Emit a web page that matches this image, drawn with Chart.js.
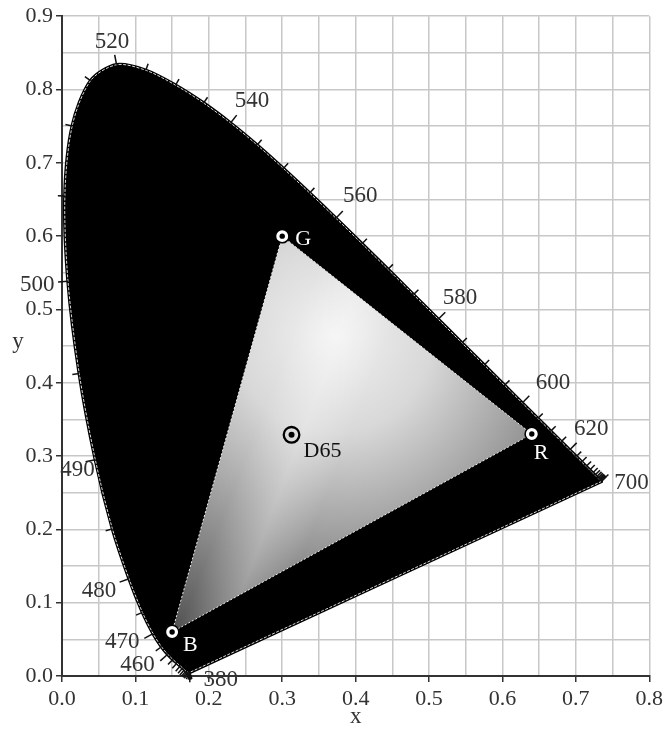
<!DOCTYPE html>
<html>
<head>
<meta charset="utf-8">
<script src="https://cdn.jsdelivr.net/npm/chart.js@4.4.1/dist/chart.umd.min.js"></script>
<style>
html,body{margin:0;padding:0;background:#ffffff;}
#wrap{width:667px;height:731px;position:relative;}
</style>
</head>
<body>
<div id="wrap"><canvas id="c"></canvas></div>
<script>
// ---------- DATA ----------
const wavelengths = [380,385,390,395,400,405,410,415,420,425,430,435,440,445,450,455,460,465,470,475,480,485,490,495,500,505,510,515,520,525,530,535,540,545,550,555,560,565,570,575,580,585,590,595,600,605,610,615,620,625,630,635,640,645,650,655,660,665,670,675,680,685,690,695,700];
const locusX = [0.1741,0.1740,0.1738,0.1736,0.1733,0.1730,0.1726,0.1721,0.1714,0.1703,0.1689,0.1669,0.1644,0.1611,0.1566,0.1510,0.1440,0.1355,0.1241,0.1096,0.0913,0.0687,0.0454,0.0235,0.0082,0.0039,0.0139,0.0389,0.0743,0.1142,0.1547,0.1929,0.2296,0.2658,0.3016,0.3373,0.3731,0.4087,0.4441,0.4788,0.5125,0.5448,0.5752,0.6029,0.6270,0.6482,0.6658,0.6801,0.6915,0.7006,0.7079,0.7140,0.7190,0.7230,0.7260,0.7283,0.7300,0.7311,0.7320,0.7327,0.7334,0.7340,0.7344,0.7346,0.7347];
const locusY = [0.0050,0.0050,0.0049,0.0049,0.0048,0.0048,0.0048,0.0048,0.0051,0.0058,0.0069,0.0086,0.0109,0.0138,0.0177,0.0227,0.0297,0.0399,0.0578,0.0868,0.1327,0.2007,0.2950,0.4127,0.5384,0.6548,0.7502,0.8120,0.8338,0.8262,0.8059,0.7816,0.7543,0.7243,0.6923,0.6589,0.6245,0.5896,0.5547,0.5202,0.4866,0.4544,0.4242,0.3965,0.3725,0.3514,0.3340,0.3197,0.3083,0.2993,0.2920,0.2859,0.2809,0.2770,0.2740,0.2717,0.2700,0.2689,0.2680,0.2673,0.2666,0.2660,0.2656,0.2654,0.2653];
const labeledWavelengths = [380,460,470,480,490,500,520,540,560,580,600,620,700];

const primaryNames = ['R','G','B'];
const primaryX = [0.64,0.30,0.15];
const primaryY = [0.33,0.60,0.06];

const whiteNames = ['D65'];
const whiteX = [0.3127];
const whiteY = [0.3290];

const xTickLabels = ['0.0','0.1','0.2','0.3','0.4','0.5','0.6','0.7','0.8'];
const yTickLabels = ['0.0','0.1','0.2','0.3','0.4','0.5','0.6','0.7','0.8','0.9'];
const xAxisTitle = 'x';
const yAxisTitle = 'y';

// ---------- STYLE ----------
const SERIF = '"Liberation Serif", "Times New Roman", serif';
const TEXT = '#333333';
const shading = { cx: 0.37, cy: 0.465, r: 330,
  stops: [[0,'#f2f2f2'],[0.3,'#d8d8d8'],[0.6,'#a0a0a0'],[1,'#555555']] };
const streak = { cx: 0.365, cy: 0.43, dir: [0.934, 0.358], half: 45, alpha: 0.28 };
const labelDirs = { 380:[1,0.2], 700:[1,0], 460:[-0.95,0.31], 470:[-0.97,0.24] };
const labelNudge = { 490:[13,3], 600:[9,1], 540:[3,0], 560:[3,-1] };
const pointLabelOffsets = { R:[2,19], G:[13,3], B:[11,13], D65:[12,16] };

// ---------- BUILD ----------
const locusPts = locusX.map((x,i)=>({x, y: locusY[i]}));
const locusClosed = locusPts.concat([locusPts[0]]);
const triPts = primaryX.map((x,i)=>({x, y: primaryY[i]}));
const triClosed = triPts.concat([triPts[0]]);
const whitePts = whiteX.map((x,i)=>({x, y: whiteY[i]}));

const xMajor = xTickLabels.map(Number);
const yMajor = yTickLabels.map(Number);
function isMajor(v, list){ return list.some(m => Math.abs(m - v) < 1e-6); }
function labelFor(v, labels){ const i = labels.findIndex(l => Math.abs(Number(l) - v) < 1e-6); return i >= 0 ? labels[i] : ''; }

function triangleFill(context){
  const chart = context.chart;
  if (!chart.chartArea) return '#bbbbbb';
  const xs = chart.scales.x, ys = chart.scales.y;
  const cx = xs.getPixelForValue(shading.cx), cy = ys.getPixelForValue(shading.cy);
  const g = chart.ctx.createRadialGradient(cx, cy, 0, cx, cy, shading.r);
  shading.stops.forEach(s => g.addColorStop(s[0], s[1]));
  return g;
}
function streakFill(context){
  const chart = context.chart;
  if (!chart.chartArea) return 'rgba(255,255,255,0)';
  const xs = chart.scales.x, ys = chart.scales.y;
  const cx = xs.getPixelForValue(streak.cx), cy = ys.getPixelForValue(streak.cy);
  const dx = streak.dir[0]*streak.half, dy = streak.dir[1]*streak.half;
  const g = chart.ctx.createLinearGradient(cx-dx, cy-dy, cx+dx, cy+dy);
  g.addColorStop(0, 'rgba(255,255,255,0)');
  g.addColorStop(0.5, 'rgba(255,255,255,' + streak.alpha + ')');
  g.addColorStop(1, 'rgba(255,255,255,0)');
  return g;
}

const locusTicksPlugin = {
  id: 'locusTicks',
  afterDatasetsDraw(chart){
    const ctx = chart.ctx, xs = chart.scales.x, ys = chart.scales.y;
    const px = locusX.map(v => xs.getPixelForValue(v));
    const py = locusY.map(v => ys.getPixelForValue(v));
    const n = px.length;
    ctx.save();
    ctx.font = '23px ' + SERIF;
    ctx.fillStyle = TEXT;
    ctx.textAlign = 'center';
    ctx.textBaseline = 'middle';
    for (let i = 0; i < n; i++){
      const a = Math.max(0, i-1), b = Math.min(n-1, i+1);
      let tx = px[b]-px[a], ty = py[b]-py[a];
      const tl = Math.hypot(tx, ty) || 1; tx/=tl; ty/=tl;
      const nx = ty, ny = -tx;
      const wl = wavelengths[i];
      const labeled = labeledWavelengths.includes(wl);
      const len = labeled ? 10 : 7;
      ctx.strokeStyle = '#111';
      ctx.lineWidth = 1.5;
      ctx.beginPath();
      ctx.moveTo(px[i], py[i]);
      ctx.lineTo(px[i] + nx*len, py[i] + ny*len);
      ctx.stroke();
      if (labeled){
        let dx = nx, dy = ny;
        if (labelDirs[wl]){ dx = labelDirs[wl][0]; dy = labelDirs[wl][1]; const l = Math.hypot(dx,dy); dx/=l; dy/=l; }
        const txt = String(wl);
        const w = ctx.measureText(txt).width;
        const d = len + 3 + Math.abs(dx)*w/2 + Math.abs(dy)*8;
        const nudge = labelNudge[wl] || [0,0];
        ctx.fillText(txt, px[i] + dx*d + nudge[0], py[i] + dy*d + 1 + nudge[1]);
      }
    }
    ctx.restore();
  }
};

const pointLabelsPlugin = {
  id: 'pointLabels',
  afterDatasetsDraw(chart){
    const ctx = chart.ctx, xs = chart.scales.x, ys = chart.scales.y;
    ctx.save();
    ctx.font = '22px ' + SERIF;
    ctx.textAlign = 'left';
    ctx.textBaseline = 'middle';
    primaryNames.forEach((nm, i) => {
      const o = pointLabelOffsets[nm];
      ctx.fillStyle = '#ffffff';
      ctx.fillText(nm, xs.getPixelForValue(primaryX[i]) + o[0], ys.getPixelForValue(primaryY[i]) + o[1]);
    });
    whiteNames.forEach((nm, i) => {
      const o = pointLabelOffsets[nm];
      ctx.fillStyle = '#111111';
      ctx.fillText(nm, xs.getPixelForValue(whiteX[i]) + o[0], ys.getPixelForValue(whiteY[i]) + o[1]);
    });
    ctx.restore();
  }
};

const axisTitlesPlugin = {
  id: 'axisTitles',
  afterDraw(chart){
    const ctx = chart.ctx, a = chart.chartArea;
    ctx.save();
    ctx.font = '23px ' + SERIF;
    ctx.fillStyle = TEXT;
    ctx.textAlign = 'center';
    ctx.textBaseline = 'middle';
    ctx.fillText(xAxisTitle, (a.left + a.right)/2, a.bottom + 41);
    ctx.fillText(yAxisTitle, 18, (a.top + a.bottom)/2 - 4);
    ctx.restore();
  }
};

const gridCfg = (major) => ({
  color: '#c8c8c8',
  lineWidth: 1.5,
  drawTicks: true,
  tickLength: 6,
  tickWidth: 1.5,
  tickColor: (c) => (c.tick && isMajor(c.tick.value, major)) ? '#333333' : 'rgba(0,0,0,0)'
});

new Chart(document.getElementById('c'), {
  type: 'scatter',
  data: {
    datasets: [
      { label: 'D65 dot', data: whitePts, pointRadius: 3, pointBackgroundColor: '#000', pointBorderWidth: 0, order: 0 },
      { label: 'D65 ring', data: whitePts, pointRadius: 7.8, pointBackgroundColor: 'rgba(0,0,0,0)', pointBorderColor: '#000', pointBorderWidth: 2.3, order: 1 },
      { label: 'prim dot', data: triPts, pointRadius: 2.7, pointBackgroundColor: '#000', pointBorderWidth: 0, order: 2 },
      { label: 'prim ring', data: triPts, pointRadius: 6.7, pointBackgroundColor: '#fff', pointBorderColor: '#000', pointBorderWidth: 1.5, order: 3 },
      { label: 'gamut edge', data: triClosed, showLine: true, fill: false,
        borderColor: 'rgba(255,255,255,0.9)', borderWidth: 1, borderDash: [2,2], pointRadius: 0, tension: 0, order: 4 },
      { label: 'gamut streak', data: triClosed, showLine: true, fill: 'shape', backgroundColor: streakFill,
        borderWidth: 0, borderColor: 'rgba(0,0,0,0)', pointRadius: 0, tension: 0, order: 5 },
      { label: 'gamut', data: triClosed, showLine: true, fill: 'shape', backgroundColor: triangleFill,
        borderWidth: 0, borderColor: 'rgba(0,0,0,0)', pointRadius: 0, tension: 0, order: 6 },
      { label: 'locus edge', data: locusClosed, showLine: true, fill: false, borderColor: 'rgba(255,255,255,0.85)',
        borderWidth: 1, borderDash: [3,1.5], pointRadius: 0, tension: 0.3, order: 7 },
      { label: 'locus', data: locusClosed, showLine: true, fill: 'shape', backgroundColor: '#000000',
        borderColor: '#000000', borderWidth: 3.5, pointRadius: 0, tension: 0.3, order: 8 }
    ]
  },
  options: {
    responsive: true,
    maintainAspectRatio: false,
    animation: false,
    events: [],
    layout: { padding: { left: 0, right: 17, top: 16, bottom: 0 } },
    plugins: { legend: { display: false }, tooltip: { enabled: false }, title: { display: false } },
    scales: {
      x: {
        type: 'linear', min: 0, max: 0.8,
        afterFit(s){ s.height = 55; },
        ticks: { stepSize: 0.05, autoSkip: false, maxRotation: 0, padding: 4, color: TEXT,
          font: { family: SERIF, size: 22 }, callback: (v) => labelFor(v, xTickLabels) },
        grid: gridCfg(xMajor),
        border: { display: true, color: '#333333', width: 2 }
      },
      y: {
        type: 'linear', min: 0, max: 0.9,
        afterFit(s){ s.width = 62; },
        ticks: { stepSize: 0.05, autoSkip: false, padding: 3, color: TEXT,
          font: { family: SERIF, size: 22 }, callback: (v) => labelFor(v, yTickLabels) },
        grid: gridCfg(yMajor),
        border: { display: true, color: '#333333', width: 2 }
      }
    }
  },
  plugins: [locusTicksPlugin, pointLabelsPlugin, axisTitlesPlugin]
});
</script>
</body>
</html>
